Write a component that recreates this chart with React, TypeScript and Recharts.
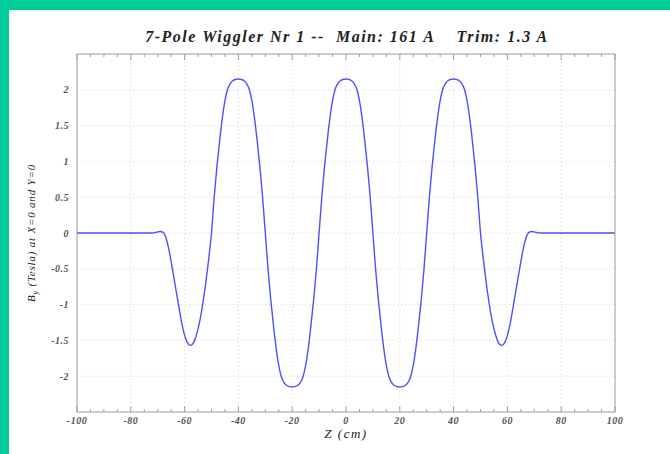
import { LineChart, Line, XAxis, YAxis, CartesianGrid, Label } from "recharts";

// longitudinal position along the wiggler (cm)
const zCm = [
  -100, -90, -80, -75, -72, -71, -70, -69, -68, -67, -66, -65, -64, -63, -62, -61,
  -60, -59, -58, -57, -56, -55, -54, -53, -52, -51,
  -50, -49, -48, -47, -46, -45, -44, -43, -42, -41,
  -40, -39, -38, -37, -36, -35, -34, -33, -32, -31,
  -30, -29, -28, -27, -26, -25, -24, -23, -22, -21,
  -20, -19, -18, -17, -16, -15, -14, -13, -12, -11,
  -10, -9, -8, -7, -6, -5, -4, -3, -2, -1,
  0, 1, 2, 3, 4, 5, 6, 7, 8, 9,
  10, 11, 12, 13, 14, 15, 16, 17, 18, 19,
  20, 21, 22, 23, 24, 25, 26, 27, 28, 29,
  30, 31, 32, 33, 34, 35, 36, 37, 38, 39,
  40, 41, 42, 43, 44, 45, 46, 47, 48, 49,
  50, 51, 52, 53, 54, 55, 56, 57, 58, 59,
  60, 61, 62, 63, 64, 65, 66, 67, 68, 69,
  70, 71, 72, 75, 80, 90, 100,
];

// vertical field on axis (T)
const byTesla = [
  0, 0, 0, 0, 0, 0.005, 0.015, 0.02, 0.01, -0.06, -0.2, -0.4, -0.62, -0.84, -1.06, -1.27,
  -1.43, -1.53, -1.57, -1.55, -1.47, -1.34, -1.16, -0.93, -0.66, -0.35,
  0, 0.5, 0.92, 1.28, 1.6, 1.85, 2.01, 2.09, 2.13, 2.145,
  2.15, 2.145, 2.13, 2.09, 2.01, 1.85, 1.6, 1.28, 0.92, 0.5,
  0, -0.5, -0.92, -1.28, -1.6, -1.85, -2.01, -2.09, -2.13, -2.145,
  -2.15, -2.145, -2.13, -2.09, -2.01, -1.85, -1.6, -1.28, -0.92, -0.5,
  0, 0.5, 0.92, 1.28, 1.6, 1.85, 2.01, 2.09, 2.13, 2.145,
  2.15, 2.145, 2.13, 2.09, 2.01, 1.85, 1.6, 1.28, 0.92, 0.5,
  0, -0.5, -0.92, -1.28, -1.6, -1.85, -2.01, -2.09, -2.13, -2.145,
  -2.15, -2.145, -2.13, -2.09, -2.01, -1.85, -1.6, -1.28, -0.92, -0.5,
  0, 0.5, 0.92, 1.28, 1.6, 1.85, 2.01, 2.09, 2.13, 2.145,
  2.15, 2.145, 2.13, 2.09, 2.01, 1.85, 1.6, 1.28, 0.92, 0.5,
  0, -0.35, -0.66, -0.93, -1.16, -1.34, -1.47, -1.55, -1.57, -1.53,
  -1.43, -1.27, -1.06, -0.84, -0.62, -0.4, -0.2, -0.06, 0.01, 0.02,
  0.015, 0.005, 0, 0, 0, 0, 0,
];

const xTicks = [-100, -80, -60, -40, -20, 0, 20, 40, 60, 80, 100];
const yTicks = [-2, -1.5, -1, -0.5, 0, 0.5, 1, 1.5, 2];
// minor tick positions for the frame (every 5 cm / every 0.1 T)
const xMinor = Array.from({ length: 41 }, (_, i) => -100 + i * 5);
const yMinor = Array.from({ length: 51 }, (_, i) => Math.round((-2.5 + i * 0.1) * 10) / 10);

const data = zCm.map((z, i) => ({ z, by: byTesla[i] }));

const FRAME = "#a0a0a0";
const serif = "'Liberation Serif', 'DejaVu Serif', serif";
const tickFont = {
  fontSize: 10,
  fontStyle: "italic",
  fontWeight: "bold",
  fill: "#555",
  fontFamily: serif,
  letterSpacing: 0.5,
};

// draws an inward tick mark; majors are longer than minors
function frameTick(side: "top" | "bottom" | "left" | "right", majors: number[]) {
  return (props: any) => {
    const { x, y, payload } = props;
    const v = payload.value;
    const len = majors.some((m) => Math.abs(m - v) < 1e-6) ? 6 : 3;
    let x2 = x;
    let y2 = y;
    if (side === "bottom") y2 = y - len;
    if (side === "top") y2 = y + len;
    if (side === "left") x2 = x + len;
    if (side === "right") x2 = x - len;
    return <line x1={x} y1={y} x2={x2} y2={y2} stroke={FRAME} strokeWidth={1} />;
  };
}

function ByLabel(props: any) {
  const vb = props.viewBox;
  const cx = vb.x + 35;
  const cy = vb.y + vb.height / 2;
  return (
    <text
      x={cx}
      y={cy}
      transform={`rotate(-90 ${cx} ${cy})`}
      textAnchor="middle"
      fontFamily={serif}
      fontStyle="italic"
      fontSize={11}
      letterSpacing={0.8}
      fill="#222"
    >
      B
      <tspan dy={3} fontSize={8}>
        y
      </tspan>
      <tspan dy={-3}> (Tesla) at X=0 and Y=0</tspan>
    </text>
  );
}

export default function App() {
  return (
    <div
      style={{
        position: "fixed",
        left: 0,
        top: 0,
        width: 670,
        height: 454,
        background: "#fff",
        overflow: "hidden",
      }}
    >
      <div style={{ position: "absolute", left: 0, top: 0, width: 670, height: 10, background: "#00cc99" }} />
      <div style={{ position: "absolute", left: 0, top: 0, width: 9, height: 454, background: "#00cc99" }} />
      <div
        style={{
          position: "absolute",
          left: 0,
          width: 694,
          top: 28,
          textAlign: "center",
          fontFamily: serif,
          fontStyle: "italic",
          fontWeight: "bold",
          fontSize: 16,
          letterSpacing: 1.5,
          color: "#222",
          whiteSpace: "pre",
        }}
      >
        {"7-Pole Wiggler Nr 1 --  Main: 161 A    Trim: 1.3 A"}
      </div>

      <LineChart
        width={670}
        height={454}
        data={data}
        margin={{ top: 54, right: 55, bottom: 0, left: 0 }}
        style={{ position: "absolute", left: 0, top: 0 }}
      >
        <CartesianGrid stroke="#d2d2d2" strokeDasharray="1 3" />

        {/* labelled axes */}
        <XAxis
          dataKey="z"
          type="number"
          domain={[-100, 100]}
          ticks={xTicks}
          interval={0}
          height={42}
          tickSize={0}
          tickMargin={5}
          tickLine={false}
          axisLine={false}
          tick={tickFont}
        >
          <Label
            value="Z (cm)"
            position="insideBottom"
            offset={16}
            style={{
              fontFamily: serif,
              fontStyle: "italic",
              fontSize: 13,
              letterSpacing: 1.5,
              fill: "#222",
            }}
          />
        </XAxis>
        <YAxis
          type="number"
          domain={[-2.5, 2.5]}
          ticks={yTicks}
          interval={0}
          width={77}
          tickSize={0}
          tickMargin={8}
          tickLine={false}
          axisLine={false}
          tick={tickFont}
        >
          <Label content={ByLabel} />
        </YAxis>

        {/* frame with inward major and minor ticks on all four sides */}
        <XAxis xAxisId="bottomFrame" dataKey="z" type="number" domain={[-100, 100]} ticks={xMinor}
          interval={0} height={1} mirror tickSize={0} tickMargin={0} tickLine={false}
          tick={frameTick("bottom", xTicks)} stroke={FRAME} />
        <XAxis xAxisId="topFrame" orientation="top" dataKey="z" type="number" domain={[-100, 100]}
          ticks={xMinor} interval={0} height={1} mirror tickSize={0} tickMargin={0} tickLine={false}
          tick={frameTick("top", xTicks)} stroke={FRAME} />
        <YAxis yAxisId="leftFrame" type="number" domain={[-2.5, 2.5]} ticks={yMinor} interval={0}
          width={1} mirror tickSize={0} tickMargin={0} tickLine={false}
          tick={frameTick("left", yTicks)} stroke={FRAME} />
        <YAxis yAxisId="rightFrame" orientation="right" type="number" domain={[-2.5, 2.5]}
          ticks={yMinor} interval={0} width={1} mirror tickSize={0} tickMargin={0} tickLine={false}
          tick={frameTick("right", yTicks)} stroke={FRAME} />

        <Line
          type="monotone"
          dataKey="by"
          stroke="#4f4fff"
          strokeWidth={1.4}
          dot={false}
          isAnimationActive={false}
        />
      </LineChart>
    </div>
  );
}
